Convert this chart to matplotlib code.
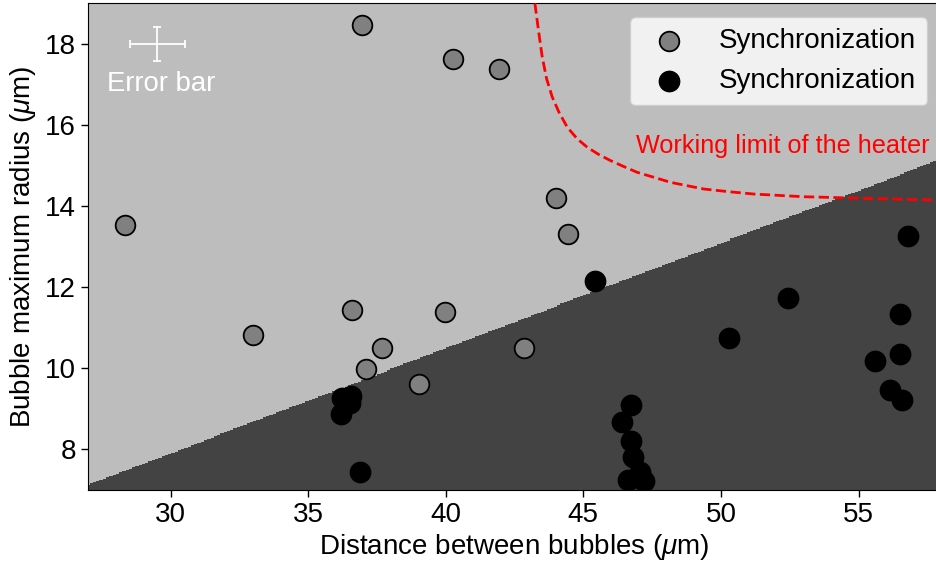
import numpy as np
import matplotlib
matplotlib.use("Agg")
import matplotlib.pyplot as plt
from matplotlib.colors import ListedColormap

plt.rcParams['font.family'] = ['Liberation Sans', 'DejaVu Sans']
plt.rcParams['mathtext.fontset'] = 'custom'
plt.rcParams['mathtext.rm'] = 'Liberation Sans'
plt.rcParams['mathtext.it'] = 'Liberation Sans:italic'

# Measured bubble pairs (distance, maximum radius), in micrometres
gray_x = [28.33, 32.98, 36.94, 40.25, 41.95, 43.99, 44.43, 36.61, 39.99, 37.70, 37.09, 39.01, 42.86]
gray_y = [13.54, 10.81, 18.46, 17.62, 17.37, 14.20, 13.31, 11.43, 11.38, 10.49, 9.97, 9.60, 10.49]

black_x = [45.44, 36.24, 36.54, 36.52, 36.20, 36.88, 50.28, 52.42, 56.79, 56.49, 56.49,
           55.58, 56.13, 56.59, 46.74, 46.39, 46.74, 46.80, 47.06, 46.62, 47.22]
black_y = [12.15, 9.26, 9.32, 9.14, 8.88, 7.45, 10.74, 11.73, 13.26, 11.33, 10.34,
           10.17, 9.47, 9.22, 9.08, 8.67, 8.21, 7.82, 7.45, 7.24, 7.22]

# Regime boundary (end points of the dividing line)
boundary_x = [27.0, 58.0]
boundary_y = [7.12, 15.16]

# Heater working limit
limit_x = [43.24, 43.263, 43.384, 43.505, 43.663, 43.869, 44.111, 44.414, 44.777, 45.140,
           45.564, 45.988, 46.473, 46.957, 47.563, 48.169, 48.774, 49.380, 50.288, 51.197,
           52.105, 53.013, 53.922, 54.830, 56.284, 57.738, 58.0]
limit_y = [19.0, 18.876, 18.257, 17.679, 17.143, 16.689, 16.318, 15.946, 15.658, 15.451,
           15.270, 15.121, 14.973, 14.832, 14.709, 14.585, 14.502, 14.420, 14.354, 14.296,
           14.263, 14.230, 14.214, 14.197, 14.173, 14.148, 14.145]

# Representative error bar
err_x, err_y = 29.52, 18.0
err_dx, err_dy = 0.99, 0.41

xlim = (27.0, 58.0)
ylim = (7.0, 19.0)

fig = plt.figure(figsize=(9.36, 5.63), dpi=100)
ax = fig.add_axes([0.094, 0.13, 0.9115, 0.864])

# Background regime map on a grid
gx = np.linspace(xlim[0], xlim[1], 262)
gy = np.linspace(ylim[0], ylim[1], 480)
GX, GY = np.meshgrid(gx, gy)
bound = np.interp(GX, boundary_x, boundary_y)
regime = (GY > bound).astype(float)
cmap = ListedColormap(['#434343', '#bdbdbd'])
ax.pcolormesh(gx, gy, regime, cmap=cmap, shading='nearest', vmin=0, vmax=1, rasterized=True)

ax.plot(limit_x, limit_y, color='#ff0000', linestyle='--', linewidth=2.0, zorder=3)
ax.text(57.58, 15.49, 'Working limit of the heater', color='#ff0000', fontsize=18.2,
        ha='right', va='center', zorder=4)

ax.scatter(gray_x, gray_y, s=200, facecolor='#808080', edgecolor='black', linewidth=1.3,
           zorder=5, label='Synchronization')
ax.scatter(black_x, black_y, s=215, facecolor='black', edgecolor='black', linewidth=1.0,
           zorder=5, label='Synchronization')

ax.errorbar([err_x], [err_y], xerr=[err_dx], yerr=[err_dy], color='white', linewidth=1.3,
            capsize=3, capthick=1.3, zorder=6)
ax.text(29.67, 17.0, 'Error bar', color='white', fontsize=19.8, ha='center', va='center', zorder=6)

ax.set_xlim(*xlim)
ax.set_ylim(*ylim)
ax.set_xticks([30, 35, 40, 45, 50, 55])
ax.set_yticks([8, 10, 12, 14, 16, 18])
ax.tick_params(labelsize=20, direction='out', length=5, width=1)
ax.set_xlabel(r'Distance between bubbles ($\mu$m)', fontsize=20, labelpad=3)
ax.set_ylabel(r'Bubble maximum radius ($\mu$m)', fontsize=20, labelpad=5)

ax.legend(loc='upper right', fontsize=20, borderaxespad=0.5)

fig.savefig('out.png', dpi=100)
